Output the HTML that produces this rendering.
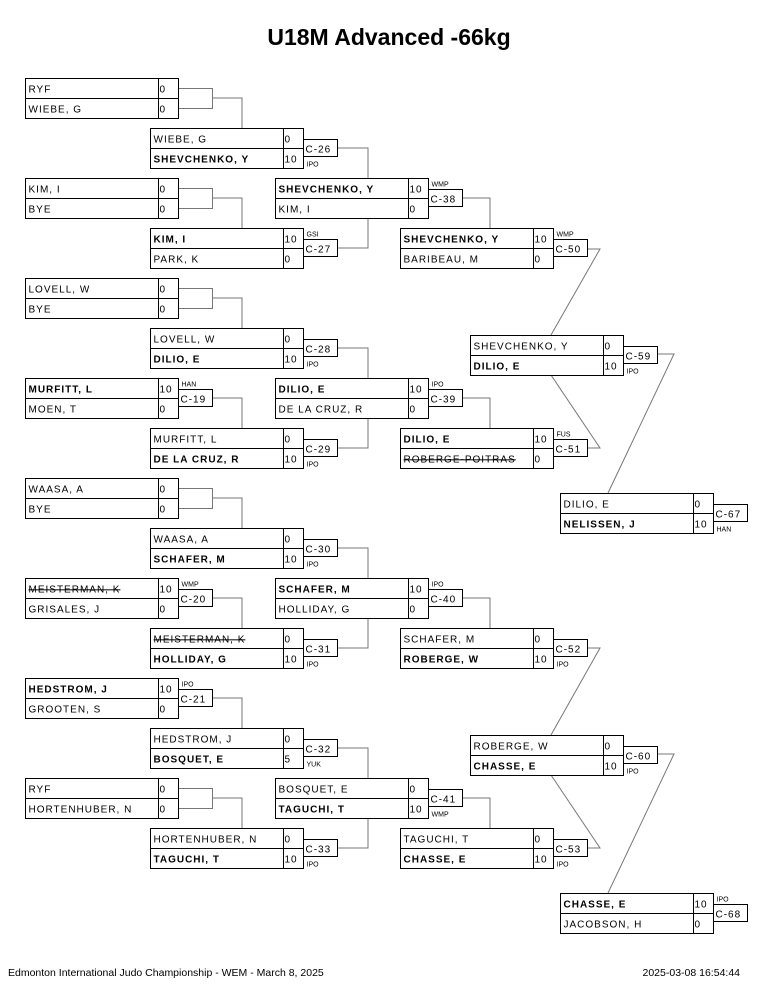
<!DOCTYPE html>
<html><head><meta charset="utf-8"><style>
html,body{margin:0;padding:0;background:#fff;}
svg{display:block;}
text{font-family:"Liberation Sans",sans-serif;font-size:10px;letter-spacing:1px;fill:#000;}
text.w{font-weight:bold;}
text.m{font-size:7px;letter-spacing:0;}
text.st{text-decoration:line-through;}
rect{fill:none;stroke:#000;stroke-width:1;}
g.bx line{stroke:#000;stroke-width:1;}
.c{stroke:#777;stroke-width:1;fill:none;}
</style></head><body>
<svg width="765" height="990" viewBox="0 0 765 990" xmlns="http://www.w3.org/2000/svg">
<text x="389" y="45" text-anchor="middle" style="font-size:23px;font-weight:bold;letter-spacing:0">U18M Advanced -66kg</text>

<!-- connectors -->
<g class="c">
<path d="M212,98H242V128M212,198H242V228M212,298H242V328M212,398H242V428M212,498H242V528M212,598H242V628M212,698H242V728M212,798H242V828"/>
<rect x="178.5" y="88.5" width="34" height="20" class="c"/>
<rect x="178.5" y="188.5" width="34" height="20" class="c"/>
<rect x="178.5" y="288.5" width="34" height="20" class="c"/>
<rect x="178.5" y="488.5" width="34" height="20" class="c"/>
<rect x="178.5" y="788.5" width="34" height="20" class="c"/>
<path d="M337,148H368V178M337,248H368V218M337,348H368V378M337,448H368V418M337,548H368V578M337,648H368V618M337,748H368V778M337,848H368V818"/>
<path d="M462,198H490V228M462,398H490V428M462,598H490V628M462,798H490V828"/>
<path d="M587,249H600L551,335M587,448H600L551,375M587,648H600L551,735M587,848H600L551,775"/>
<path d="M657,354H674L608,493M657,754H674L608,893"/>
</g>

<!-- Round 1 -->
<g class="bx" transform="translate(25.5,78.5)"><rect width="153" height="40"/><line x1="0" y1="20" x2="153" y2="20"/><line x1="133" y1="0" x2="133" y2="40"/>
<text x="3" y="14">RYF</text><text x="3" y="34">WIEBE, G</text><text x="134" y="14">0</text><text x="134" y="34">0</text></g>
<g class="bx" transform="translate(25.5,178.5)"><rect width="153" height="40"/><line x1="0" y1="20" x2="153" y2="20"/><line x1="133" y1="0" x2="133" y2="40"/>
<text x="3" y="14">KIM, I</text><text x="3" y="34">BYE</text><text x="134" y="14">0</text><text x="134" y="34">0</text></g>
<g class="bx" transform="translate(25.5,278.5)"><rect width="153" height="40"/><line x1="0" y1="20" x2="153" y2="20"/><line x1="133" y1="0" x2="133" y2="40"/>
<text x="3" y="14">LOVELL, W</text><text x="3" y="34">BYE</text><text x="134" y="14">0</text><text x="134" y="34">0</text></g>
<g class="bx" transform="translate(25.5,378.5)"><rect width="153" height="40"/><line x1="0" y1="20" x2="153" y2="20"/><line x1="133" y1="0" x2="133" y2="40"/>
<text x="3" y="14" class="w">MURFITT, L</text><text x="3" y="34">MOEN, T</text><text x="134" y="14">10</text><text x="134" y="34">0</text>
<rect x="153" y="11" width="34" height="17"/><text x="155" y="24">C-19</text><text class="m" x="156" y="8">HAN</text></g>
<g class="bx" transform="translate(25.5,478.5)"><rect width="153" height="40"/><line x1="0" y1="20" x2="153" y2="20"/><line x1="133" y1="0" x2="133" y2="40"/>
<text x="3" y="14">WAASA, A</text><text x="3" y="34">BYE</text><text x="134" y="14">0</text><text x="134" y="34">0</text></g>
<g class="bx" transform="translate(25.5,578.5)"><rect width="153" height="40"/><line x1="0" y1="20" x2="153" y2="20"/><line x1="133" y1="0" x2="133" y2="40"/>
<text x="3" y="14" class="st">MEISTERMAN, K</text><text x="3" y="34">GRISALES, J</text><text x="134" y="14">10</text><text x="134" y="34">0</text>
<rect x="153" y="11" width="34" height="17"/><text x="155" y="24">C-20</text><text class="m" x="156" y="8">WMP</text></g>
<g class="bx" transform="translate(25.5,678.5)"><rect width="153" height="40"/><line x1="0" y1="20" x2="153" y2="20"/><line x1="133" y1="0" x2="133" y2="40"/>
<text x="3" y="14" class="w">HEDSTROM, J</text><text x="3" y="34">GROOTEN, S</text><text x="134" y="14">10</text><text x="134" y="34">0</text>
<rect x="153" y="11" width="34" height="17"/><text x="155" y="24">C-21</text><text class="m" x="156" y="8">IPO</text></g>
<g class="bx" transform="translate(25.5,778.5)"><rect width="153" height="40"/><line x1="0" y1="20" x2="153" y2="20"/><line x1="133" y1="0" x2="133" y2="40"/>
<text x="3" y="14">RYF</text><text x="3" y="34">HORTENHUBER, N</text><text x="134" y="14">0</text><text x="134" y="34">0</text></g>

<!-- Round 2 -->
<g class="bx" transform="translate(150.5,128.5)"><rect width="153" height="40"/><line x1="0" y1="20" x2="153" y2="20"/><line x1="133" y1="0" x2="133" y2="40"/>
<text x="3" y="14">WIEBE, G</text><text x="3" y="34" class="w">SHEVCHENKO, Y</text><text x="134" y="14">0</text><text x="134" y="34">10</text>
<rect x="153" y="11" width="34" height="17"/><text x="155" y="24">C-26</text><text class="m" x="156" y="38">IPO</text></g>
<g class="bx" transform="translate(150.5,228.5)"><rect width="153" height="40"/><line x1="0" y1="20" x2="153" y2="20"/><line x1="133" y1="0" x2="133" y2="40"/>
<text x="3" y="14" class="w">KIM, I</text><text x="3" y="34">PARK, K</text><text x="134" y="14">10</text><text x="134" y="34">0</text>
<rect x="153" y="11" width="34" height="17"/><text x="155" y="24">C-27</text><text class="m" x="156" y="8">GSI</text></g>
<g class="bx" transform="translate(150.5,328.5)"><rect width="153" height="40"/><line x1="0" y1="20" x2="153" y2="20"/><line x1="133" y1="0" x2="133" y2="40"/>
<text x="3" y="14">LOVELL, W</text><text x="3" y="34" class="w">DILIO, E</text><text x="134" y="14">0</text><text x="134" y="34">10</text>
<rect x="153" y="11" width="34" height="17"/><text x="155" y="24">C-28</text><text class="m" x="156" y="38">IPO</text></g>
<g class="bx" transform="translate(150.5,428.5)"><rect width="153" height="40"/><line x1="0" y1="20" x2="153" y2="20"/><line x1="133" y1="0" x2="133" y2="40"/>
<text x="3" y="14">MURFITT, L</text><text x="3" y="34" class="w">DE LA CRUZ, R</text><text x="134" y="14">0</text><text x="134" y="34">10</text>
<rect x="153" y="11" width="34" height="17"/><text x="155" y="24">C-29</text><text class="m" x="156" y="38">IPO</text></g>
<g class="bx" transform="translate(150.5,528.5)"><rect width="153" height="40"/><line x1="0" y1="20" x2="153" y2="20"/><line x1="133" y1="0" x2="133" y2="40"/>
<text x="3" y="14">WAASA, A</text><text x="3" y="34" class="w">SCHAFER, M</text><text x="134" y="14">0</text><text x="134" y="34">10</text>
<rect x="153" y="11" width="34" height="17"/><text x="155" y="24">C-30</text><text class="m" x="156" y="38">IPO</text></g>
<g class="bx" transform="translate(150.5,628.5)"><rect width="153" height="40"/><line x1="0" y1="20" x2="153" y2="20"/><line x1="133" y1="0" x2="133" y2="40"/>
<text x="3" y="14" class="st">MEISTERMAN, K</text><text x="3" y="34" class="w">HOLLIDAY, G</text><text x="134" y="14">0</text><text x="134" y="34">10</text>
<rect x="153" y="11" width="34" height="17"/><text x="155" y="24">C-31</text><text class="m" x="156" y="38">IPO</text></g>
<g class="bx" transform="translate(150.5,728.5)"><rect width="153" height="40"/><line x1="0" y1="20" x2="153" y2="20"/><line x1="133" y1="0" x2="133" y2="40"/>
<text x="3" y="14">HEDSTROM, J</text><text x="3" y="34" class="w">BOSQUET, E</text><text x="134" y="14">0</text><text x="134" y="34">5</text>
<rect x="153" y="11" width="34" height="17"/><text x="155" y="24">C-32</text><text class="m" x="156" y="38">YUK</text></g>
<g class="bx" transform="translate(150.5,828.5)"><rect width="153" height="40"/><line x1="0" y1="20" x2="153" y2="20"/><line x1="133" y1="0" x2="133" y2="40"/>
<text x="3" y="14">HORTENHUBER, N</text><text x="3" y="34" class="w">TAGUCHI, T</text><text x="134" y="14">0</text><text x="134" y="34">10</text>
<rect x="153" y="11" width="34" height="17"/><text x="155" y="24">C-33</text><text class="m" x="156" y="38">IPO</text></g>

<!-- Round 3 -->
<g class="bx" transform="translate(275.5,178.5)"><rect width="153" height="40"/><line x1="0" y1="20" x2="153" y2="20"/><line x1="133" y1="0" x2="133" y2="40"/>
<text x="3" y="14" class="w">SHEVCHENKO, Y</text><text x="3" y="34">KIM, I</text><text x="134" y="14">10</text><text x="134" y="34">0</text>
<rect x="153" y="11" width="34" height="17"/><text x="155" y="24">C-38</text><text class="m" x="156" y="8">WMP</text></g>
<g class="bx" transform="translate(275.5,378.5)"><rect width="153" height="40"/><line x1="0" y1="20" x2="153" y2="20"/><line x1="133" y1="0" x2="133" y2="40"/>
<text x="3" y="14" class="w">DILIO, E</text><text x="3" y="34">DE LA CRUZ, R</text><text x="134" y="14">10</text><text x="134" y="34">0</text>
<rect x="153" y="11" width="34" height="17"/><text x="155" y="24">C-39</text><text class="m" x="156" y="8">IPO</text></g>
<g class="bx" transform="translate(275.5,578.5)"><rect width="153" height="40"/><line x1="0" y1="20" x2="153" y2="20"/><line x1="133" y1="0" x2="133" y2="40"/>
<text x="3" y="14" class="w">SCHAFER, M</text><text x="3" y="34">HOLLIDAY, G</text><text x="134" y="14">10</text><text x="134" y="34">0</text>
<rect x="153" y="11" width="34" height="17"/><text x="155" y="24">C-40</text><text class="m" x="156" y="8">IPO</text></g>
<g class="bx" transform="translate(275.5,778.5)"><rect width="153" height="40"/><line x1="0" y1="20" x2="153" y2="20"/><line x1="133" y1="0" x2="133" y2="40"/>
<text x="3" y="14">BOSQUET, E</text><text x="3" y="34" class="w">TAGUCHI, T</text><text x="134" y="14">0</text><text x="134" y="34">10</text>
<rect x="153" y="11" width="34" height="17"/><text x="155" y="24">C-41</text><text class="m" x="156" y="38">WMP</text></g>

<!-- Round 4 -->
<g class="bx" transform="translate(400.5,228.5)"><rect width="153" height="40"/><line x1="0" y1="20" x2="153" y2="20"/><line x1="133" y1="0" x2="133" y2="40"/>
<text x="3" y="14" class="w">SHEVCHENKO, Y</text><text x="3" y="34">BARIBEAU, M</text><text x="134" y="14">10</text><text x="134" y="34">0</text>
<rect x="153" y="11" width="34" height="17"/><text x="155" y="24">C-50</text><text class="m" x="156" y="8">WMP</text></g>
<g class="bx" transform="translate(400.5,428.5)"><rect width="153" height="40"/><line x1="0" y1="20" x2="153" y2="20"/><line x1="133" y1="0" x2="133" y2="40"/>
<text x="3" y="14" class="w">DILIO, E</text><text x="3" y="34" class="st">ROBERGE-POITRAS</text><text x="134" y="14">10</text><text x="134" y="34">0</text>
<rect x="153" y="11" width="34" height="17"/><text x="155" y="24">C-51</text><text class="m" x="156" y="8">FUS</text></g>
<g class="bx" transform="translate(400.5,628.5)"><rect width="153" height="40"/><line x1="0" y1="20" x2="153" y2="20"/><line x1="133" y1="0" x2="133" y2="40"/>
<text x="3" y="14">SCHAFER, M</text><text x="3" y="34" class="w">ROBERGE, W</text><text x="134" y="14">0</text><text x="134" y="34">10</text>
<rect x="153" y="11" width="34" height="17"/><text x="155" y="24">C-52</text><text class="m" x="156" y="38">IPO</text></g>
<g class="bx" transform="translate(400.5,828.5)"><rect width="153" height="40"/><line x1="0" y1="20" x2="153" y2="20"/><line x1="133" y1="0" x2="133" y2="40"/>
<text x="3" y="14">TAGUCHI, T</text><text x="3" y="34" class="w">CHASSE, E</text><text x="134" y="14">0</text><text x="134" y="34">10</text>
<rect x="153" y="11" width="34" height="17"/><text x="155" y="24">C-53</text><text class="m" x="156" y="38">IPO</text></g>

<!-- Round 5 -->
<g class="bx" transform="translate(470.5,335.5)"><rect width="153" height="40"/><line x1="0" y1="20" x2="153" y2="20"/><line x1="133" y1="0" x2="133" y2="40"/>
<text x="3" y="14">SHEVCHENKO, Y</text><text x="3" y="34" class="w">DILIO, E</text><text x="134" y="14">0</text><text x="134" y="34">10</text>
<rect x="153" y="11" width="34" height="17"/><text x="155" y="24">C-59</text><text class="m" x="156" y="38">IPO</text></g>
<g class="bx" transform="translate(470.5,735.5)"><rect width="153" height="40"/><line x1="0" y1="20" x2="153" y2="20"/><line x1="133" y1="0" x2="133" y2="40"/>
<text x="3" y="14">ROBERGE, W</text><text x="3" y="34" class="w">CHASSE, E</text><text x="134" y="14">0</text><text x="134" y="34">10</text>
<rect x="153" y="11" width="34" height="17"/><text x="155" y="24">C-60</text><text class="m" x="156" y="38">IPO</text></g>

<!-- Round 6 -->
<g class="bx" transform="translate(560.5,493.5)"><rect width="153" height="40"/><line x1="0" y1="20" x2="153" y2="20"/><line x1="133" y1="0" x2="133" y2="40"/>
<text x="3" y="14">DILIO, E</text><text x="3" y="34" class="w">NELISSEN, J</text><text x="134" y="14">0</text><text x="134" y="34">10</text>
<rect x="153" y="11" width="34" height="17"/><text x="155" y="24">C-67</text><text class="m" x="156" y="38">HAN</text></g>
<g class="bx" transform="translate(560.5,893.5)"><rect width="153" height="40"/><line x1="0" y1="20" x2="153" y2="20"/><line x1="133" y1="0" x2="133" y2="40"/>
<text x="3" y="14" class="w">CHASSE, E</text><text x="3" y="34">JACOBSON, H</text><text x="134" y="14">10</text><text x="134" y="34">0</text>
<rect x="153" y="11" width="34" height="17"/><text x="155" y="24">C-68</text><text class="m" x="156" y="8">IPO</text></g>

<text x="8" y="976" style="font-size:10.5px;letter-spacing:0">Edmonton International Judo Championship - WEM - March 8, 2025</text>
<text x="740" y="976" text-anchor="end" style="font-size:10.5px;letter-spacing:0">2025-03-08 16:54:44</text>
</svg>
</body></html>
